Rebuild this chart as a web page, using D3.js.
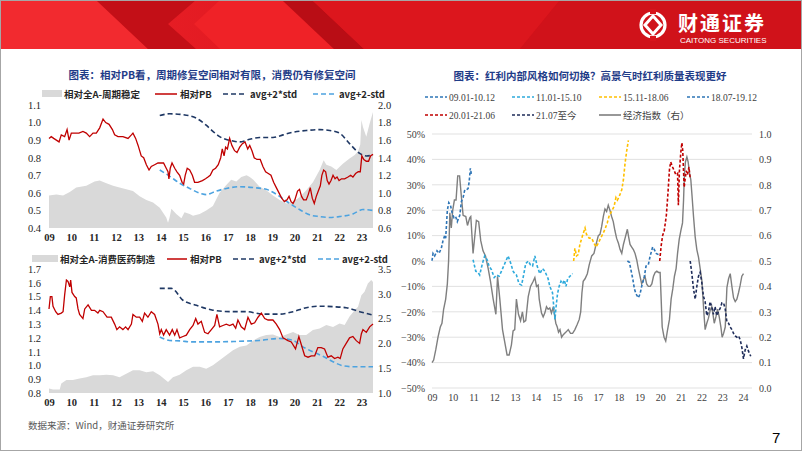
<!DOCTYPE html>
<html><head><meta charset="utf-8">
<script src="https://cdn.jsdelivr.net/npm/d3@7/dist/d3.min.js"></script>
<style>html,body{margin:0;padding:0;background:#fff;overflow:hidden}</style>
</head><body><svg id="c" width="802" height="451"></svg>
<script>
// ---------------- DATA ----------------
const yearLabelsLeft = ['09','10','11','12','13','14','15','16','17','18','19','20','21','22','23'];
const yearLabelsRight = ['09','10','11','12','13','14','15','16','17','18','19','20','21','22','23','24'];

const title1 = '图表：相对PB看，周期修复空间相对有限，消费仍有修复空间';
const title2 = '图表：红利内部风格如何切换？高景气时红利质量表现更好';
const legend1 = ['相对全A-周期稳定','相对PB','avg+2*std','avg+2-std'];
const legend2 = ['相对全A-消费医药制造','相对PB','avg+2*std','avg+2-std'];
const legend3 = ['09.01-10.12','11.01-15.10','15.11-18.06','18.07-19.12','20.01-21.06','21.07至今','经济指数（右）'];
const sourceNote = '数据来源：Wind，财通证券研究所';

const ticksC1Left = [1.1,1.0,0.9,0.8,0.7,0.6,0.5,0.4];
const ticksC1Right = [2.0,1.8,1.6,1.4,1.2,1.0,0.8,0.6];
const ticksC2Left = [1.7,1.6,1.5,1.4,1.3,1.2,1.1,1.0,0.9,0.8];
const ticksC2Right = [3.5,3.0,2.5,2.0,1.5,1.0];
const ticksC3Left = [0.5,0.4,0.3,0.2,0.1,0,-0.1,-0.2,-0.3,-0.4,-0.5];
const ticksC3Right = [1.0,0.9,0.8,0.7,0.6,0.5,0.4,0.3,0.2,0.1,0.0];

// Chart 1: 周期稳定
const c1Red = [[2009.00,0.91],[2009.10,0.92],[2009.21,0.91],[2009.33,0.90],[2009.45,0.89],[2009.55,0.93],[2009.70,0.92],[2009.81,0.96],[2009.90,0.90],[2010.00,0.94],[2010.15,0.94],[2010.34,0.94],[2010.52,0.95],[2010.67,0.94],[2010.82,0.92],[2010.97,0.94],[2011.12,0.94],[2011.27,0.97],[2011.42,1.02],[2011.54,1.00],[2011.69,0.99],[2011.84,0.96],[2011.94,0.93],[2012.09,0.92],[2012.31,0.92],[2012.54,0.91],[2012.69,0.93],[2012.76,0.94],[2012.88,0.91],[2012.99,0.87],[2013.06,0.84],[2013.13,0.81],[2013.24,0.80],[2013.36,0.76],[2013.48,0.73],[2013.58,0.75],[2013.73,0.76],[2013.88,0.77],[2014.03,0.77],[2014.13,0.77],[2014.25,0.74],[2014.33,0.72],[2014.37,0.68],[2014.43,0.74],[2014.51,0.77],[2014.63,0.74],[2014.73,0.72],[2014.85,0.70],[2014.96,0.66],[2015.03,0.65],[2015.10,0.70],[2015.19,0.74],[2015.30,0.73],[2015.42,0.70],[2015.52,0.66],[2015.67,0.66],[2015.87,0.67],[2016.01,0.68],[2016.12,0.69],[2016.22,0.70],[2016.34,0.73],[2016.46,0.74],[2016.58,0.76],[2016.69,0.80],[2016.76,0.85],[2016.84,0.81],[2016.91,0.86],[2016.99,0.85],[2017.09,0.91],[2017.19,0.87],[2017.31,0.84],[2017.42,0.83],[2017.54,0.86],[2017.66,0.88],[2017.78,0.89],[2017.90,0.85],[2017.99,0.87],[2018.09,0.84],[2018.19,0.80],[2018.31,0.79],[2018.46,0.79],[2018.58,0.75],[2018.70,0.72],[2018.82,0.71],[2018.94,0.70],[2019.06,0.66],[2019.18,0.63],[2019.30,0.60],[2019.42,0.57],[2019.54,0.55],[2019.66,0.56],[2019.75,0.58],[2019.84,0.55],[2019.93,0.54],[2020.01,0.56],[2020.13,0.61],[2020.22,0.62],[2020.31,0.58],[2020.40,0.56],[2020.52,0.56],[2020.61,0.59],[2020.70,0.63],[2020.79,0.57],[2020.88,0.54],[2020.97,0.58],[2021.06,0.61],[2021.15,0.64],[2021.22,0.70],[2021.30,0.73],[2021.39,0.72],[2021.46,0.67],[2021.54,0.65],[2021.63,0.67],[2021.72,0.70],[2021.81,0.68],[2021.90,0.69],[2021.99,0.67],[2022.10,0.68],[2022.24,0.68],[2022.39,0.69],[2022.51,0.70],[2022.61,0.69],[2022.73,0.71],[2022.85,0.72],[2022.94,0.72],[2023.01,0.81],[2023.10,0.79],[2023.21,0.78],[2023.31,0.78],[2023.40,0.81],[2023.51,0.82]];
const c1Area = [[2009.00,0.97],[2009.33,0.98],[2009.63,0.97],[2009.93,1.01],[2010.22,1.06],[2010.67,1.08],[2011.04,1.13],[2011.27,1.14],[2011.57,1.11],[2011.87,1.08],[2012.16,1.06],[2012.46,1.04],[2012.76,1.02],[2013.06,0.96],[2013.36,0.92],[2013.66,0.89],[2013.96,0.83],[2014.25,0.72],[2014.33,0.66],[2014.40,0.72],[2014.48,0.82],[2014.70,0.76],[2014.93,0.71],[2015.07,0.78],[2015.30,0.76],[2015.45,0.74],[2015.75,0.76],[2016.04,0.80],[2016.34,0.85],[2016.64,1.00],[2016.94,1.09],[2017.16,1.15],[2017.39,1.13],[2017.61,1.18],[2017.85,1.20],[2017.99,1.18],[2018.15,1.15],[2018.43,1.07],[2018.73,1.03],[2019.03,0.97],[2019.33,0.92],[2019.63,0.88],[2019.93,0.90],[2020.22,0.95],[2020.52,1.03],[2020.82,1.12],[2021.12,1.26],[2021.30,1.37],[2021.42,1.32],[2021.64,1.30],[2021.87,1.26],[2022.16,1.33],[2022.46,1.39],[2022.69,1.43],[2022.84,1.47],[2022.94,1.55],[2022.99,1.83],[2023.06,1.75],[2023.21,1.64],[2023.36,1.79],[2023.51,1.92]];
const c1Std2 = [[2013.96,1.88],[2014.40,1.90],[2015.00,1.89],[2015.60,1.85],[2016.04,1.77],[2016.34,1.70],[2016.64,1.64],[2017.24,1.59],[2017.54,1.58],[2017.99,1.61],[2018.43,1.63],[2019.03,1.63],[2019.48,1.66],[2019.93,1.69],[2020.52,1.71],[2021.12,1.72],[2021.57,1.71],[2022.01,1.68],[2022.46,1.56],[2022.91,1.45],[2023.21,1.42],[2023.51,1.43]];
const c1StdL = [[2013.96,1.26],[2014.40,1.19],[2014.85,1.11],[2015.30,1.05],[2015.82,0.99],[2016.04,0.98],[2016.49,1.02],[2016.94,1.05],[2017.54,1.07],[2018.15,1.06],[2018.73,1.04],[2019.33,0.96],[2019.78,0.88],[2020.22,0.81],[2020.67,0.75],[2021.12,0.73],[2021.57,0.72],[2022.01,0.73],[2022.61,0.76],[2023.06,0.81],[2023.51,0.80]];

// Chart 2: 消费医药制造
const c2Red = [[2009.00,1.41],[2009.06,1.50],[2009.13,1.50],[2009.18,1.43],[2009.30,1.39],[2009.40,1.37],[2009.55,1.38],[2009.63,1.39],[2009.70,1.51],[2009.78,1.62],[2009.85,1.61],[2009.93,1.57],[2009.97,1.62],[2010.03,1.53],[2010.15,1.50],[2010.22,1.49],[2010.30,1.41],[2010.37,1.37],[2010.52,1.34],[2010.60,1.41],[2010.75,1.44],[2010.90,1.40],[2011.04,1.40],[2011.19,1.38],[2011.27,1.40],[2011.42,1.39],[2011.60,1.35],[2011.79,1.35],[2011.94,1.30],[2012.04,1.26],[2012.16,1.28],[2012.31,1.26],[2012.43,1.28],[2012.54,1.26],[2012.69,1.30],[2012.76,1.37],[2012.91,1.35],[2013.06,1.35],[2013.18,1.32],[2013.28,1.38],[2013.43,1.35],[2013.58,1.39],[2013.73,1.37],[2013.88,1.30],[2013.96,1.23],[2014.03,1.26],[2014.13,1.22],[2014.25,1.26],[2014.40,1.22],[2014.52,1.26],[2014.63,1.22],[2014.73,1.26],[2014.85,1.20],[2015.00,1.21],[2015.15,1.22],[2015.30,1.26],[2015.45,1.29],[2015.57,1.34],[2015.67,1.30],[2015.82,1.32],[2015.97,1.24],[2016.12,1.23],[2016.27,1.26],[2016.42,1.29],[2016.52,1.37],[2016.64,1.28],[2016.79,1.29],[2016.94,1.30],[2017.09,1.29],[2017.24,1.30],[2017.36,1.27],[2017.46,1.33],[2017.61,1.28],[2017.76,1.26],[2017.91,1.35],[2018.06,1.30],[2018.21,1.31],[2018.36,1.35],[2018.51,1.38],[2018.66,1.34],[2018.81,1.33],[2019.03,1.33],[2019.18,1.30],[2019.33,1.26],[2019.48,1.20],[2019.70,1.18],[2019.85,1.17],[2020.04,1.12],[2020.19,1.21],[2020.30,1.15],[2020.45,1.07],[2020.60,1.06],[2020.75,1.07],[2020.90,1.07],[2021.04,1.13],[2021.19,1.13],[2021.34,1.12],[2021.49,1.06],[2021.64,1.07],[2021.79,1.05],[2021.94,1.06],[2022.04,1.05],[2022.16,1.12],[2022.31,1.16],[2022.46,1.20],[2022.61,1.21],[2022.76,1.18],[2022.91,1.16],[2022.99,1.23],[2023.06,1.26],[2023.21,1.24],[2023.36,1.28],[2023.51,1.30]];
const c2Area = [[2009.00,1.09],[2009.18,1.07],[2009.48,1.07],[2009.55,1.19],[2009.78,1.26],[2010.07,1.26],[2010.37,1.29],[2010.67,1.32],[2010.97,1.36],[2011.27,1.36],[2011.57,1.37],[2011.87,1.36],[2012.16,1.32],[2012.46,1.39],[2012.76,1.46],[2013.06,1.46],[2013.36,1.42],[2013.66,1.44],[2013.96,1.36],[2014.33,1.22],[2014.55,1.32],[2014.85,1.37],[2015.15,1.46],[2015.45,1.53],[2015.75,1.53],[2016.04,1.49],[2016.34,1.56],[2016.64,1.66],[2016.94,1.76],[2017.24,1.86],[2017.54,1.93],[2017.84,1.96],[2018.15,2.06],[2018.43,2.13],[2018.73,2.17],[2019.03,2.18],[2019.33,2.13],[2019.63,2.18],[2019.93,2.23],[2020.22,2.17],[2020.52,2.17],[2020.82,2.27],[2021.12,2.30],[2021.42,2.37],[2021.72,2.33],[2022.01,2.40],[2022.24,2.37],[2022.46,2.54],[2022.69,2.67],[2022.84,2.74],[2022.99,2.97],[2023.13,3.04],[2023.28,3.21],[2023.43,3.28],[2023.51,3.24]];
const c2Std2 = [[2013.96,3.11],[2014.48,3.11],[2015.00,2.87],[2015.60,2.77],[2016.34,2.67],[2017.09,2.64],[2017.84,2.64],[2018.58,2.59],[2019.33,2.59],[2019.93,2.64],[2020.52,2.72],[2021.12,2.75],[2021.72,2.74],[2022.31,2.72],[2022.91,2.64],[2023.51,2.57]];
const c2StdL = [[2013.96,2.13],[2014.40,2.06],[2014.85,2.05],[2015.45,2.03],[2016.34,2.03],[2017.39,2.04],[2018.43,2.06],[2019.33,2.10],[2019.93,2.06],[2020.37,1.93],[2020.82,1.83],[2021.27,1.74],[2021.72,1.63],[2022.16,1.55],[2022.61,1.53],[2023.06,1.53],[2023.51,1.53]];

// Chart 3: 红利风格 (left axis %, right axis index)
const s0910 = [[2009.00,0.001],[2009.05,0.03],[2009.13,0.02],[2009.24,0.04],[2009.34,0.03],[2009.45,0.05],[2009.53,0.08],[2009.61,0.10],[2009.66,0.09],[2009.74,0.20],[2009.81,0.23],[2009.89,0.22],[2009.97,0.19],[2010.06,0.17],[2010.14,0.175],[2010.22,0.155],[2010.34,0.18],[2010.42,0.235],[2010.50,0.25],[2010.58,0.28],[2010.66,0.28],[2010.74,0.285],[2010.79,0.31],[2010.85,0.365],[2010.90,0.34]];
const s1115 = [[2010.98,0.005],[2011.11,-0.04],[2011.22,-0.045],[2011.30,-0.055],[2011.43,-0.01],[2011.54,0.02],[2011.66,0.005],[2011.75,-0.02],[2011.87,-0.035],[2012.00,-0.065],[2012.11,-0.055],[2012.24,-0.06],[2012.35,-0.04],[2012.51,-0.01],[2012.67,0.02],[2012.80,-0.01],[2012.91,-0.04],[2012.99,-0.05],[2013.07,-0.055],[2013.20,-0.09],[2013.32,-0.095],[2013.43,-0.05],[2013.52,-0.01],[2013.64,0.0],[2013.75,-0.015],[2013.85,-0.02],[2013.96,0.02],[2014.07,-0.02],[2014.20,-0.05],[2014.33,-0.03],[2014.44,-0.04],[2014.60,-0.07],[2014.68,-0.10],[2014.81,-0.125],[2014.93,-0.23],[2014.97,-0.19],[2015.05,-0.13],[2015.13,-0.10],[2015.22,-0.08],[2015.30,-0.09],[2015.38,-0.075],[2015.46,-0.10],[2015.54,-0.07],[2015.65,-0.06],[2015.78,-0.05]];
const s1518 = [[2015.83,0.0],[2015.89,0.05],[2015.97,0.02],[2016.05,0.025],[2016.13,0.065],[2016.26,0.10],[2016.38,0.13],[2016.45,0.105],[2016.58,0.09],[2016.70,0.09],[2016.81,0.07],[2016.91,0.055],[2017.02,0.07],[2017.13,0.09],[2017.23,0.105],[2017.34,0.125],[2017.45,0.15],[2017.55,0.18],[2017.66,0.195],[2017.78,0.215],[2017.87,0.25],[2017.94,0.24],[2018.03,0.255],[2018.15,0.28],[2018.23,0.32],[2018.31,0.385],[2018.39,0.435],[2018.47,0.475]];
const s1819 = [[2018.42,0.0],[2018.52,-0.005],[2018.58,-0.03],[2018.68,-0.07],[2018.76,-0.11],[2018.84,-0.13],[2018.95,-0.145],[2019.03,-0.13],[2019.11,-0.10],[2019.23,-0.065],[2019.32,-0.02],[2019.43,-0.015],[2019.52,0.02],[2019.64,0.055],[2019.72,0.045],[2019.81,0.03],[2019.92,0.025]];
const s2021 = [[2019.98,0.0],[2020.05,0.06],[2020.12,0.10],[2020.20,0.12],[2020.30,0.18],[2020.38,0.27],[2020.45,0.36],[2020.51,0.39],[2020.60,0.37],[2020.68,0.355],[2020.76,0.34],[2020.84,0.345],[2020.88,0.22],[2020.93,0.355],[2021.00,0.43],[2021.05,0.465],[2021.09,0.435],[2021.16,0.29],[2021.21,0.325],[2021.26,0.355],[2021.32,0.34],[2021.39,0.37],[2021.45,0.325]];
const s2107 = [[2021.45,0.0],[2021.53,-0.05],[2021.61,-0.11],[2021.69,-0.15],[2021.77,-0.10],[2021.85,-0.06],[2021.93,-0.045],[2022.01,-0.085],[2022.09,-0.14],[2022.17,-0.16],[2022.25,-0.215],[2022.33,-0.20],[2022.41,-0.16],[2022.49,-0.18],[2022.57,-0.21],[2022.65,-0.18],[2022.73,-0.215],[2022.81,-0.20],[2022.90,-0.185],[2022.98,-0.165],[2023.06,-0.165],[2023.14,-0.19],[2023.22,-0.24],[2023.30,-0.245],[2023.38,-0.26],[2023.46,-0.27],[2023.54,-0.285],[2023.62,-0.295],[2023.70,-0.30],[2023.78,-0.295],[2023.86,-0.31],[2023.94,-0.34],[2024.02,-0.385],[2024.10,-0.35],[2024.18,-0.335],[2024.26,-0.355],[2024.37,-0.375]];
const econIndex = [[2009.00,0.10],[2009.08,0.11],[2009.18,0.15],[2009.29,0.20],[2009.40,0.24],[2009.48,0.255],[2009.56,0.31],[2009.66,0.35],[2009.74,0.41],[2009.80,0.50],[2009.86,0.69],[2009.93,0.63],[2010.00,0.70],[2010.08,0.74],[2010.16,0.74],[2010.24,0.835],[2010.33,0.835],[2010.42,0.75],[2010.50,0.68],[2010.63,0.675],[2010.71,0.64],[2010.82,0.67],[2010.87,0.675],[2010.98,0.53],[2011.14,0.66],[2011.25,0.655],[2011.35,0.58],[2011.46,0.54],[2011.58,0.52],[2011.71,0.47],[2011.82,0.42],[2011.95,0.35],[2012.08,0.29],[2012.16,0.44],[2012.27,0.35],[2012.40,0.23],[2012.51,0.18],[2012.62,0.13],[2012.72,0.13],[2012.83,0.17],[2012.91,0.225],[2012.99,0.23],[2013.07,0.35],[2013.17,0.29],[2013.27,0.265],[2013.36,0.30],[2013.43,0.26],[2013.52,0.265],[2013.64,0.36],[2013.75,0.40],[2013.88,0.42],[2013.96,0.435],[2014.04,0.40],[2014.12,0.405],[2014.17,0.35],[2014.28,0.295],[2014.36,0.28],[2014.44,0.295],[2014.52,0.32],[2014.60,0.31],[2014.68,0.315],[2014.76,0.295],[2014.85,0.32],[2014.93,0.275],[2014.97,0.255],[2015.04,0.24],[2015.10,0.22],[2015.17,0.23],[2015.25,0.20],[2015.33,0.21],[2015.46,0.22],[2015.57,0.23],[2015.68,0.215],[2015.78,0.215],[2015.89,0.23],[2016.00,0.25],[2016.10,0.27],[2016.17,0.30],[2016.23,0.375],[2016.29,0.42],[2016.38,0.43],[2016.49,0.45],[2016.58,0.485],[2016.70,0.52],[2016.81,0.53],[2016.91,0.565],[2017.02,0.60],[2017.10,0.605],[2017.18,0.635],[2017.26,0.675],[2017.34,0.705],[2017.42,0.695],[2017.50,0.72],[2017.58,0.70],[2017.66,0.675],[2017.74,0.655],[2017.82,0.62],[2017.90,0.59],[2017.99,0.57],[2018.07,0.545],[2018.15,0.53],[2018.23,0.565],[2018.31,0.59],[2018.42,0.625],[2018.47,0.60],[2018.55,0.565],[2018.63,0.555],[2018.71,0.545],[2018.79,0.53],[2018.87,0.505],[2018.95,0.47],[2019.03,0.44],[2019.11,0.41],[2019.19,0.425],[2019.27,0.44],[2019.35,0.41],[2019.43,0.40],[2019.52,0.40],[2019.60,0.41],[2019.68,0.44],[2019.76,0.455],[2019.84,0.46],[2019.92,0.455],[2020.00,0.455],[2020.05,0.35],[2020.10,0.24],[2020.19,0.20],[2020.27,0.185],[2020.35,0.225],[2020.45,0.27],[2020.53,0.35],[2020.61,0.39],[2020.69,0.44],[2020.77,0.47],[2020.84,0.53],[2020.92,0.585],[2021.00,0.62],[2021.08,0.65],[2021.13,0.74],[2021.17,0.84],[2021.22,0.89],[2021.29,0.91],[2021.35,0.89],[2021.42,0.845],[2021.48,0.82],[2021.54,0.755],[2021.61,0.675],[2021.69,0.595],[2021.77,0.545],[2021.85,0.515],[2021.93,0.47],[2022.01,0.425],[2022.06,0.36],[2022.12,0.285],[2022.17,0.23],[2022.25,0.255],[2022.33,0.275],[2022.41,0.305],[2022.49,0.32],[2022.54,0.295],[2022.61,0.255],[2022.69,0.28],[2022.77,0.31],[2022.85,0.28],[2022.93,0.24],[2022.99,0.20],[2023.06,0.215],[2023.14,0.24],[2023.22,0.395],[2023.30,0.43],[2023.38,0.45],[2023.46,0.40],[2023.54,0.355],[2023.62,0.34],[2023.70,0.35],[2023.78,0.375],[2023.86,0.405],[2023.94,0.44],[2024.02,0.45]];

// ---------------- DRAW ----------------
const svg = d3.select('#c');
const serif = '"Liberation Serif","Times New Roman",serif';
const cjk = '"Noto Sans CJK SC","Noto Sans",sans-serif';
const RED='#c00000', NAVY='#1f3864', LBLUE='#4da3e0', AREA='#d9d9d9', TITLE='#1f3c88';

// slide frame + header banner
const defs = svg.append('defs');
const g1 = defs.append('linearGradient').attr('id','bg').attr('x1','0').attr('x2','1');
g1.append('stop').attr('offset','0').attr('stop-color','#f0232a');
g1.append('stop').attr('offset','0.5').attr('stop-color','#d8141c');
g1.append('stop').attr('offset','1').attr('stop-color','#c9121a');
svg.append('rect').attr('x',0).attr('y',0).attr('width',802).attr('height',49).attr('fill','url(#bg)');
const bannerShapes = [
  {p:[[0,0],[96,0],[148,49],[0,49]], f:'#f22a2f'},
  {p:[[96,0],[196,0],[168,24],[196,49],[148,49]], f:'#c30f17'},
  {p:[[220,0],[282,0],[334,49],[220,49],[194,24]], f:'#ef2227'},
  {p:[[282,0],[312,0],[364,49],[334,49]], f:'#b90d15'},
  {p:[[312,0],[560,0],[520,49],[364,49]], f:'#dc161d'},
  {p:[[560,0],[802,0],[802,49],[520,49]], f:'#d0121a'}
];
svg.append('g').selectAll('path').data(bannerShapes).join('path')
  .attr('d',d=>'M'+d.p.map(q=>q.join(',')).join('L')+'Z').attr('fill',d=>d.f);
// logo
const logo = svg.append('g');
logo.append('circle').attr('cx',653).attr('cy',25).attr('r',12).attr('fill','none').attr('stroke','#fff').attr('stroke-width',3.2);
logo.append('path').attr('d','M653,16 L661,25 L653,34 L645,25 Z').attr('fill','none').attr('stroke','#fff').attr('stroke-width',3);
logo.append('rect').attr('x',650).attr('y',9).attr('width',6).attr('height',5).attr('fill','#d8141c');
logo.append('rect').attr('x',650).attr('y',36).attr('width',6).attr('height',5).attr('fill','#d8141c');
logo.append('text').attr('x',678).attr('y',31).attr('font-family',cjk).attr('font-weight','bold')
  .attr('font-size',20).attr('fill','#fff').attr('letter-spacing',2).text('财通证券');
logo.append('text').attr('x',680).attr('y',43).attr('font-family','Arial,"Liberation Sans",sans-serif')
  .attr('font-size',8).attr('fill','#fff').text('CAITONG SECURITIES');
svg.append('rect').attr('x',0.5).attr('y',0.5).attr('width',801).attr('height',450).attr('fill','none').attr('stroke','#a6a6a6');

// titles
svg.append('text').attr('x',212).attr('y',79).attr('text-anchor','middle').attr('font-family',cjk)
  .attr('font-weight','bold').attr('font-size',10.5).attr('fill',TITLE).text(title1);
svg.append('text').attr('x',590).attr('y',80).attr('text-anchor','middle').attr('font-family',cjk)
  .attr('font-weight','bold').attr('font-size',10.5).attr('fill',TITLE).text(title2);

// -------- left panels --------
function leftPanel(o){
  const x = d3.scaleLinear().domain([2009,2023.51]).range([49,373]);
  const yL = d3.scaleLinear().domain(o.lDom).range([o.yb,o.yt]);
  const yR = d3.scaleLinear().domain(o.rDom).range([o.yb,o.yt]);
  const g = svg.append('g');
  g.append('path').datum(o.area).attr('fill',AREA)
    .attr('d',d3.area().x(d=>x(d[0])).y0(o.yb).y1(d=>yR(d[1])));
  g.append('path').datum(o.stdL).attr('fill','none').attr('stroke',LBLUE).attr('stroke-width',1.6).attr('stroke-dasharray','5,3')
    .attr('d',d3.line().curve(d3.curveMonotoneX).x(d=>x(d[0])).y(d=>yR(d[1])));
  g.append('path').datum(o.std2).attr('fill','none').attr('stroke',NAVY).attr('stroke-width',1.6).attr('stroke-dasharray','5,3')
    .attr('d',d3.line().curve(d3.curveMonotoneX).x(d=>x(d[0])).y(d=>yR(d[1])));
  g.append('path').datum(o.red).attr('fill','none').attr('stroke',RED).attr('stroke-width',1.3)
    .attr('d',d3.line().x(d=>x(d[0])).y(d=>yL(d[1])));
  // axes
  const al = g.append('g').attr('transform','translate(49,0)')
    .call(d3.axisLeft(yL).tickValues(o.lTicks).tickFormat(d3.format('.1f')).tickSize(0).tickPadding(8));
  const ar = g.append('g').attr('transform','translate(373,0)')
    .call(d3.axisRight(yR).tickValues(o.rTicks).tickFormat(d3.format('.1f')).tickSize(0).tickPadding(5));
  const ax = g.append('g').attr('transform',`translate(0,${o.yb})`)
    .call(d3.axisBottom(x).tickValues(d3.range(2009,2024)).tickFormat((d,i)=>yearLabelsLeft[i]).tickSize(0).tickPadding(6));
  [al,ar,ax].forEach(a=>{a.select('.domain').remove();
    a.selectAll('text').attr('font-family',serif).attr('font-size',10.5).attr('fill','#262626');});
  ax.selectAll('text').attr('font-weight','bold');
  // legend
  const lg = g.append('g').attr('font-family',cjk).attr('font-weight','bold').attr('font-size',9.5).attr('fill','#262626');
  const L = o.leg, ly = o.ly;
  lg.append('rect').attr('x',L[0]).attr('y',ly-4).attr('width',L[1]-L[0]).attr('height',7).attr('fill',AREA);
  lg.append('text').attr('x',L[1]+2).attr('y',ly+3.5).text(o.labels[0]);
  lg.append('line').attr('x1',L[2]).attr('x2',L[3]).attr('y1',ly).attr('y2',ly).attr('stroke',RED).attr('stroke-width',1.5);
  lg.append('text').attr('x',L[3]+3).attr('y',ly+3.5).text(o.labels[1]);
  lg.append('line').attr('x1',L[4]).attr('x2',L[5]).attr('y1',ly).attr('y2',ly).attr('stroke',NAVY).attr('stroke-width',1.6).attr('stroke-dasharray','5,3');
  lg.append('text').attr('x',L[5]+3).attr('y',ly+3.5).text(o.labels[2]);
  lg.append('line').attr('x1',L[6]).attr('x2',L[7]).attr('y1',ly).attr('y2',ly).attr('stroke',LBLUE).attr('stroke-width',1.6).attr('stroke-dasharray','5,3');
  lg.append('text').attr('x',L[7]+2).attr('y',ly+3.5).text(o.labels[3]);
}
leftPanel({yt:105,yb:228,lDom:[0.4,1.1],rDom:[0.6,2.0],lTicks:ticksC1Left,rTicks:ticksC1Right,
  red:c1Red,area:c1Area,std2:c1Std2,stdL:c1StdL,labels:legend1,ly:94,leg:[42,62,155,177,223,247,313,337]});
leftPanel({yt:269,yb:393,lDom:[0.8,1.7],rDom:[1.0,3.5],lTicks:ticksC2Left,rTicks:ticksC2Right,
  red:c2Red,area:c2Area,std2:c2Std2,stdL:c2StdL,labels:legend2,ly:259,leg:[32,58,167,187,233,256,318,340]});

// -------- right panel --------
(function(){
  const x = d3.scaleLinear().domain([2009,2024.43]).range([432,752]);
  const yL = d3.scaleLinear().domain([-0.5,0.5]).range([388,134]);
  const yR = d3.scaleLinear().domain([0,1]).range([388,134]);
  const g = svg.append('g');
  g.append('g').selectAll('line').data(ticksC3Left).join('line')
    .attr('x1',432).attr('x2',752).attr('y1',d=>yL(d)).attr('y2',d=>yL(d)).attr('stroke','#d9d9d9').attr('stroke-width',0.8);
  const series = [
    {d:s0910,c:'#2e75b6'},{d:s1115,c:'#2eaadc'},{d:s1518,c:'#ffc000'},
    {d:s1819,c:'#2e75b6'},{d:s2021,c:'#c00000'},{d:s2107,c:'#1f2d5a'}];
  const line = d3.line().x(d=>x(d[0])).y(d=>yL(d[1]));
  g.append('path').datum(econIndex).attr('fill','none').attr('stroke','#7f7f7f').attr('stroke-width',1.4)
    .attr('d',d3.line().x(d=>x(d[0])).y(d=>yR(d[1])));
  series.forEach(s=>g.append('path').datum(s.d).attr('fill','none').attr('stroke',s.c)
    .attr('stroke-width',1.6).attr('stroke-dasharray','3,2').attr('d',line));
  const al = g.append('g').attr('transform','translate(432,0)')
    .call(d3.axisLeft(yL).tickValues(ticksC3Left).tickFormat(d3.format('.0%')).tickSize(0).tickPadding(7));
  const ar = g.append('g').attr('transform','translate(752,0)')
    .call(d3.axisRight(yR).tickValues(ticksC3Right).tickFormat(d3.format('.1f')).tickSize(0).tickPadding(7));
  const ax = g.append('g').attr('transform','translate(0,388)')
    .call(d3.axisBottom(x).tickValues(d3.range(2009,2025)).tickFormat((d,i)=>yearLabelsRight[i]).tickSize(0).tickPadding(6));
  [al,ar,ax].forEach(a=>{a.select('.domain').remove();
    a.selectAll('text').attr('font-family',serif).attr('font-size',10).attr('fill','#404040');});
  // legend
  const cols=[425,512,599,687], rows=[97,115];
  const items = [
    {c:'#2e75b6',dash:true},{c:'#2eaadc',dash:true},{c:'#ffc000',dash:true},{c:'#2e75b6',dash:true},
    {c:'#c00000',dash:true},{c:'#1f2d5a',dash:true},{c:'#7f7f7f',dash:false}];
  const lg = g.append('g');
  items.forEach((it,i)=>{
    const cx = cols[i%4], cy = rows[Math.floor(i/4)];
    lg.append('line').attr('x1',cx).attr('x2',cx+22).attr('y1',cy).attr('y2',cy).attr('stroke',it.c)
      .attr('stroke-width',1.6).attr('stroke-dasharray',it.dash?'3,2':null);
    lg.append('text').attr('x',cx+24).attr('y',cy+3.5).attr('font-family',serif+',"Noto Sans CJK SC"')
      .attr('font-size',9.5).attr('fill','#404040').text(legend3[i]);
  });
})();

// source note + page number
svg.append('text').attr('x',28).attr('y',429).attr('font-family',cjk).attr('font-size',9.5).attr('fill','#595959').text(sourceNote);
svg.append('text').attr('x',772).attr('y',443).attr('font-family','Arial,"Liberation Sans",sans-serif').attr('font-size',15).attr('fill','#000').text('7');
</script></body></html>
